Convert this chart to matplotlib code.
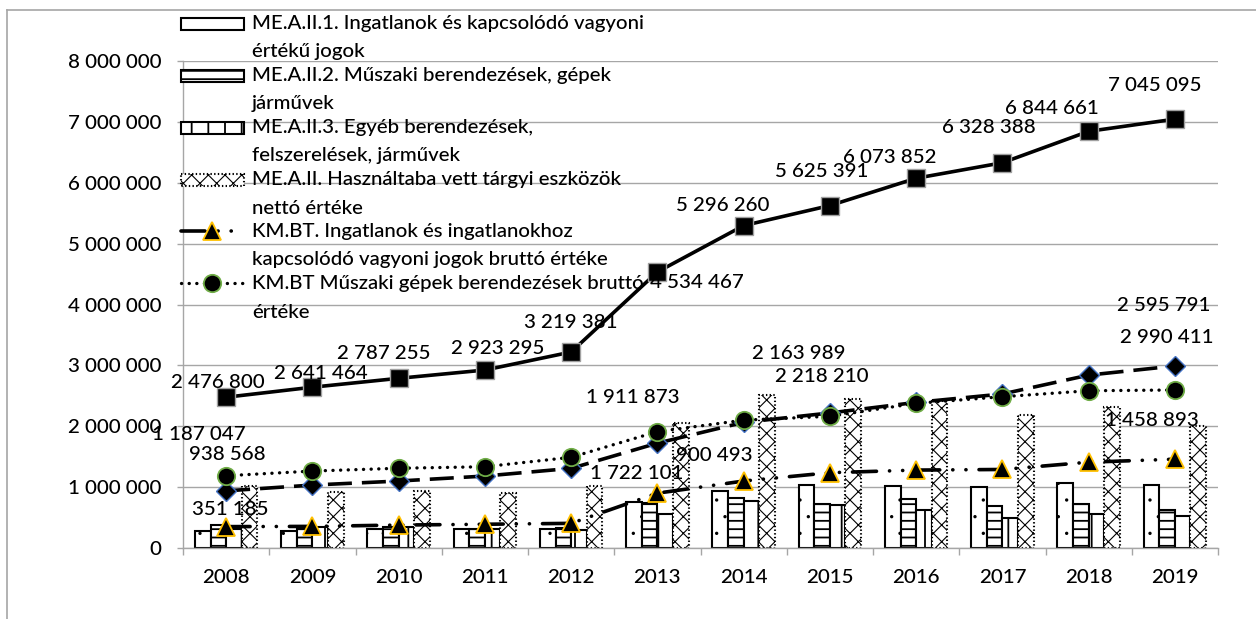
import matplotlib
matplotlib.use('Agg')
import matplotlib.pyplot as plt
import matplotlib.hatch as mhatch
from matplotlib.patches import Rectangle
from matplotlib.lines import Line2D
from matplotlib.ticker import FuncFormatter, FixedLocator, MultipleLocator

# ---------------- data ----------------
years = ['2008', '2009', '2010', '2011', '2012', '2013',
         '2014', '2015', '2016', '2017', '2018', '2019']

me_a_ii_1 = [280000, 280000, 306000, 306000, 320000, 750000,
             940000, 1030000, 1020000, 1007000, 1060000, 1035000]
me_a_ii_2 = [380000, 317000, 340000, 320000, 330000, 740000,
             815000, 720000, 800000, 690000, 720000, 620000]
me_a_ii_3 = [320000, 340000, 350000, 310000, 300000, 560000,
             770000, 705000, 620000, 500000, 560000, 525000]
me_a_ii_net = [1020000, 925000, 940000, 910000, 1020000, 2060000,
               2510000, 2440000, 2420000, 2180000, 2320000, 2000000]

km_bt_ingatlan = [351185, 355000, 377000, 390000, 405000, 900493,
                  1100000, 1237000, 1280000, 1290000, 1410000, 1458893]
km_bt_muszaki = [1187047, 1264000, 1310000, 1335000, 1490000, 1911873,
                 2100000, 2163989, 2376000, 2485000, 2583000, 2595791]
series_diamond = [938568, 1034000, 1100000, 1182000, 1308000, 1722101,
                  2064000, 2218210, 2392000, 2530000, 2840000, 2990411]
series_square = [2476800, 2641464, 2787255, 2923295, 3219381, 4534467,
                 5296260, 5625391, 6073852, 6328388, 6844661, 7045095]

legend_labels = [
    ('ME.A.II.1. Ingatlanok és kapcsolódó vagyoni', 'értékű jogok'),
    ('ME.A.II.2. Műszaki berendezések, gépek', 'járművek'),
    ('ME.A.II.3. Egyéb berendezések,', 'felszerelések, járművek'),
    ('ME.A.II. Használtaba vett tárgyi eszközök', 'nettó értéke'),
    ('KM.BT. Ingatlanok és ingatlanokhoz', 'kapcsolódó vagyoni jogok bruttó értéke'),
    ('KM.BT Műszaki gépek berendezések bruttó', 'értéke'),
]

# ---------------- style ----------------
W, H = 1256, 619
FAM = ['Lato', 'DejaVu Sans']
plt.rcParams['font.family'] = FAM
plt.rcParams['font.weight'] = 'medium'
plt.rcParams['hatch.linewidth'] = 1.3
plt.rcParams['lines.scale_dashes'] = False
mhatch.SmallFilledCircles.size = 0.045  # smaller dots for the dotted pattern

fig = plt.figure(figsize=(W / 100, H / 100), dpi=100)
fig.patch.set_facecolor('white')


def fit_size(s, target_px):
    t = fig.text(0, 0, s, fontsize=10)
    r = fig.canvas.get_renderer()
    w = t.get_window_extent(r).width
    t.remove()
    return 10 * target_px / w


def set_hlw(artist, lw):
    if hasattr(artist, 'set_hatch_linewidth'):
        try:
            artist.set_hatch_linewidth(lw)
        except Exception:
            pass


FS_LABEL = fit_size('2 476 800', 93)
FS_LEG = fit_size(legend_labels[0][0], 396)

PX = 0.72  # points per pixel at dpi 100

left, right, top, bottom = 183, 1218, 61, 548
ax = fig.add_axes([left / W, 1 - bottom / H, (right - left) / W, (bottom - top) / H])
ax.set_facecolor('none')

n = len(years)
xs = list(range(n))
bw = 0.181
offs = [-1.5, -0.5, 0.5, 1.5]

bar_specs = [
    (me_a_ii_1, '.', '-', 1.3),
    (me_a_ii_2, '--', '-', 1.3),
    (me_a_ii_3, '|', '-', 1.3),
    (me_a_ii_net, 'xx', ':', 0.8),
]
for (vals, hatch, ls, hlw), o in zip(bar_specs, offs):
    bars = ax.bar([x + o * bw for x in xs], vals, width=bw, facecolor='white',
                  edgecolor='black', hatch=hatch, linewidth=1.5, linestyle=ls, zorder=2)
    for b in bars:
        set_hlw(b, hlw)

GOLD = '#FFC000'
GREEN = '#70AD47'
BLUE = '#4472C4'

tri_ls = (0, (24 * PX, 13 * PX, 0.1, 13 * PX, 0.1, 13 * PX))
dia_ls = (0, (24 * PX, 10 * PX))
dot_ls = (0, (0.1, 7.5 * PX))

ax.plot(xs, series_square, color='black', lw=2.6, marker='s', ms=12.5,
        markerfacecolor='black', markeredgecolor='#A0A0A0', markeredgewidth=1.0, zorder=5)
ax.plot(xs, series_diamond, color='black', lw=2.6, linestyle=dia_ls, marker='D', ms=10.5,
        markerfacecolor='black', markeredgecolor=BLUE, markeredgewidth=1.0, zorder=4)
ax.plot(xs, km_bt_muszaki, color='black', lw=2.4, linestyle=dot_ls, dash_capstyle='round',
        marker='o', ms=12.5, markerfacecolor='black', markeredgecolor=GREEN,
        markeredgewidth=1.3, zorder=4)
ax.plot(xs, km_bt_ingatlan, color='black', lw=2.6, linestyle=tri_ls, dash_capstyle='round',
        marker='^', ms=12.5, markerfacecolor='black', markeredgecolor=GOLD,
        markeredgewidth=1.3, zorder=4)

ax.set_xlim(-0.5, n - 0.5)
ax.set_ylim(0, 8000000)
ax.yaxis.set_major_locator(MultipleLocator(1000000))
ax.yaxis.set_major_formatter(FuncFormatter(lambda v, p: f"{int(v):,}".replace(',', ' ')))
ax.set_xticks(xs)
ax.set_xticklabels(years)
ax.xaxis.set_minor_locator(FixedLocator([i - 0.5 for i in range(n + 1)]))
ax.tick_params(axis='x', which='major', length=0, pad=15, labelsize=FS_LABEL)
ax.tick_params(axis='x', which='minor', length=7 * PX, color='#A6A6A6', width=1)
ax.tick_params(axis='y', length=6 * PX, color='#A6A6A6', width=1, pad=16 * PX,
               labelsize=FS_LABEL)
ax.grid(axis='y', color='#A6A6A6', linewidth=1.0, zorder=0)
ax.set_axisbelow(True)
for s in ['top', 'right']:
    ax.spines[s].set_visible(False)
for s in ['left', 'bottom']:
    ax.spines[s].set_color('#A6A6A6')
    ax.spines[s].set_linewidth(1.0)

# ---------------- data labels ----------------
def lab(i, vals, dx, dy):
    v = vals[i]
    ax.annotate(f"{v:,}".replace(',', ' '), xy=(i, v), xytext=(dx, dy),
                textcoords='offset pixels', ha='center', va='center',
                fontsize=FS_LABEL, color='black', zorder=6)

sq_offsets = [(-8, 15), (9, 14), (-15, 25), (13, 22), (0, 30), (39, -11),
              (-21, 20), (-8, 34), (-26, 21), (-13, 35), (-37, 23), (-20, 34)]
for i, (dx, dy) in enumerate(sq_offsets):
    lab(i, series_square, dx, dy)

for i, dx, dy in [(0, -27, 41), (5, -25, 34), (7, -31, 63), (11, -11, 84)]:
    lab(i, km_bt_muszaki, dx, dy)
for i, dx, dy in [(0, 1, 36), (5, -21, -30), (7, -8, 36), (11, -8, 28)]:
    lab(i, series_diamond, dx, dy)
for i, dx, dy in [(0, 4, 17), (5, 57, 38), (11, -23, 39)]:
    lab(i, km_bt_ingatlan, dx, dy)

# ---------------- overlay: border + legend ----------------
ov = fig.add_axes([0, 0, 1, 1], zorder=10)
ov.set_xlim(0, W)
ov.set_ylim(H, 0)
ov.axis('off')
ov.patch.set_alpha(0)

ov.add_line(Line2D([7, 7], [10, H + 5], color='#A6A6A6', lw=1.2))
ov.add_line(Line2D([7, W + 5], [10, 10], color='#A6A6A6', lw=1.2))

entry_y = [24, 76, 128, 180, 231, 283]
line2_y = [52, 104, 156, 208, 260, 312]
hx0, hx1 = 181, 244
for k in range(4):
    y = entry_y[k]
    hatch, ls, hlw = bar_specs[k][1], bar_specs[k][2], bar_specs[k][3]
    p = Rectangle((hx0, y - 6), hx1 - hx0, 12, facecolor='white',
                  edgecolor='black', hatch=hatch, linewidth=1.5, linestyle=ls)
    set_hlw(p, hlw)
    ov.add_patch(p)

y = entry_y[4]
ov.add_line(Line2D([hx0, hx1], [y, y], color='black', lw=2.6, linestyle=tri_ls,
                   dash_capstyle='round'))
ov.add_line(Line2D([212], [y], marker='^', ms=12.5, markerfacecolor='black',
                   markeredgecolor=GOLD, markeredgewidth=1.3, linestyle='none'))
y = entry_y[5]
ov.add_line(Line2D([hx0, hx1], [y, y], color='black', lw=2.4, linestyle=dot_ls,
                   dash_capstyle='round'))
ov.add_line(Line2D([212], [y], marker='o', ms=12.5, markerfacecolor='black',
                   markeredgecolor=GREEN, markeredgewidth=1.3, linestyle='none'))

for k, (l1, l2) in enumerate(legend_labels):
    ov.text(252, entry_y[k], l1, ha='left', va='center', fontsize=FS_LEG)
    ov.text(252, line2_y[k], l2, ha='left', va='center', fontsize=FS_LEG)

fig.savefig('out.png', dpi=100, facecolor='white')
